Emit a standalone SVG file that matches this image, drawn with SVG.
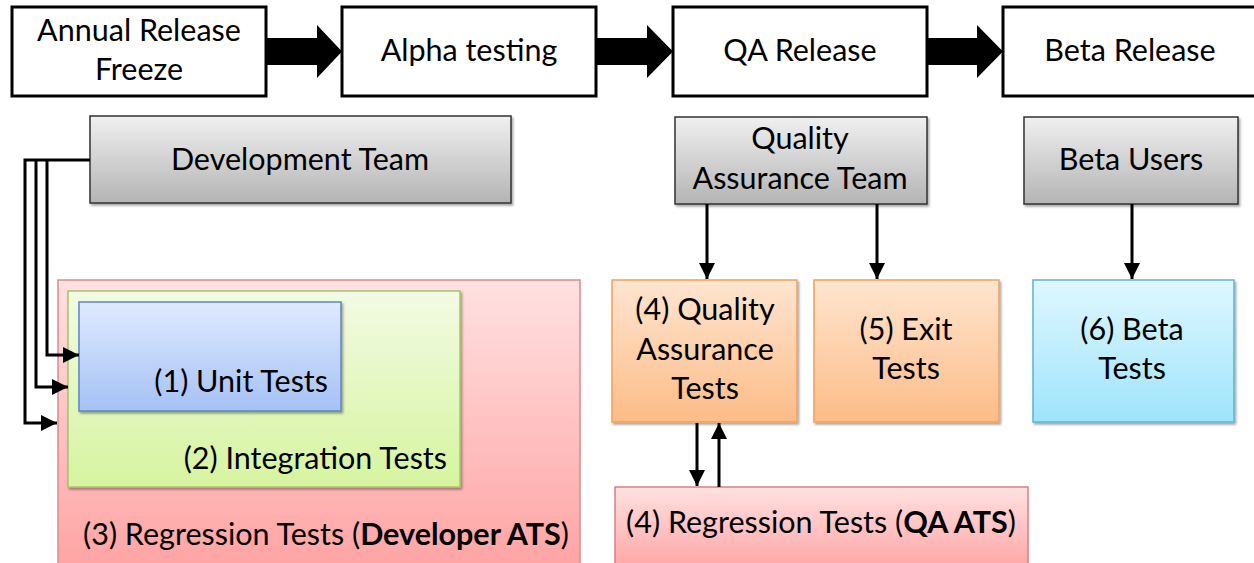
<svg xmlns="http://www.w3.org/2000/svg" width="1254" height="563" viewBox="0 0 1254 563">
<defs>
<style>
text{font-family:Lato,"Open Sans","DejaVu Sans",sans-serif;font-size:30.5px;fill:#000;text-anchor:middle}
.top{fill:#fff;stroke:#000;stroke-width:3}
.gray{fill:url(#gGray);stroke:#333;stroke-width:1.5;filter:url(#sh)}
.c{stroke:#000;stroke-width:3;fill:none}
.end{text-anchor:end}
</style>
<linearGradient id="gGray" x1="0" y1="0" x2="0" y2="1"><stop offset="0" stop-color="#f0f0f0"/><stop offset="1" stop-color="#b4b4b4"/></linearGradient>
<linearGradient id="gRed" x1="0" y1="0" x2="0" y2="1"><stop offset="0" stop-color="#ffe1e1"/><stop offset="1" stop-color="#ffa3a3"/></linearGradient>
<linearGradient id="gGreen" x1="0" y1="0" x2="0" y2="1"><stop offset="0" stop-color="#f2fbe4"/><stop offset="1" stop-color="#d6f49f"/></linearGradient>
<linearGradient id="gBlue" x1="0" y1="0" x2="0" y2="1"><stop offset="0" stop-color="#e0eaff"/><stop offset="1" stop-color="#a5c1f5"/></linearGradient>
<linearGradient id="gOrange" x1="0" y1="0" x2="0" y2="1"><stop offset="0" stop-color="#ffe5d0"/><stop offset="1" stop-color="#fcbc87"/></linearGradient>
<linearGradient id="gCyan" x1="0" y1="0" x2="0" y2="1"><stop offset="0" stop-color="#dff7ff"/><stop offset="1" stop-color="#9ee4fb"/></linearGradient>
<filter id="sh" x="-5%" y="-5%" width="110%" height="115%"><feDropShadow dx="1.5" dy="2" stdDeviation="1.2" flood-color="#000" flood-opacity="0.35"/></filter>
<marker id="ah" viewBox="0 0 10 10" refX="10" refY="5" markerUnits="userSpaceOnUse" markerWidth="16" markerHeight="16" orient="auto"><path d="M0,0 L10,5 L0,10 z" fill="#000"/></marker>
</defs>

<g id="annual-release-freeze"><rect class="top" x="12" y="7" width="254" height="89"/><text x="139" y="41">Annual Release</text><text x="139" y="80">Freeze</text></g>
<g id="alpha-testing"><rect class="top" x="342" y="7" width="254" height="89"/><text x="469" y="61">Alpha testing</text></g>
<g id="qa-release"><rect class="top" x="673" y="7" width="254" height="89"/><text x="800" y="61">QA Release</text></g>
<g id="beta-release"><rect class="top" x="1003" y="7" width="254" height="89"/><text x="1130" y="61">Beta Release</text></g>

<g id="development-team"><rect class="gray" x="90" y="116" width="421" height="87"/><text x="300" y="170">Development Team</text></g>
<g id="quality-assurance-team"><rect class="gray" x="675" y="117" width="252" height="87"/><text x="800" y="149">Quality</text><text x="800" y="189">Assurance Team</text></g>
<g id="beta-users"><rect class="gray" x="1024" y="117" width="214" height="87"/><text x="1131" y="170">Beta Users</text></g>

<g id="regression-developer-ats"><rect x="58" y="280" width="522" height="290" fill="url(#gRed)" stroke="#d98c8c" stroke-width="1.5"/><text x="326" y="545">(3) Regression Tests (<tspan font-weight="bold">Developer ATS</tspan>)</text></g>
<g id="integration-tests"><rect x="68" y="291" width="392" height="196" fill="url(#gGreen)" stroke="#a4c46a" stroke-width="1.5" filter="url(#sh)"/><text class="end" x="447" y="469">(2) Integration Tests</text></g>
<g id="unit-tests"><rect x="79" y="302" width="262" height="109" fill="url(#gBlue)" stroke="#5b86c6" stroke-width="1.5" filter="url(#sh)"/><text class="end" x="328" y="392">(1) Unit Tests</text></g>

<g id="qa-tests"><rect x="612" y="280" width="185" height="142" fill="url(#gOrange)" stroke="#f5a05a" stroke-width="1.5" filter="url(#sh)"/><text x="705" y="320">(4) Quality</text><text x="705" y="360">Assurance</text><text x="705" y="399">Tests</text></g>
<g id="exit-tests"><rect x="814" y="280" width="185" height="142" fill="url(#gOrange)" stroke="#f5a05a" stroke-width="1.5" filter="url(#sh)"/><text x="906" y="340">(5) Exit</text><text x="906" y="379">Tests</text></g>
<g id="beta-tests"><rect x="1033" y="280" width="201" height="142" fill="url(#gCyan)" stroke="#5bb5cf" stroke-width="1.5" filter="url(#sh)"/><text x="1132" y="340">(6) Beta</text><text x="1132" y="379">Tests</text></g>
<g id="regression-qa-ats"><rect x="615" y="487" width="413" height="85" fill="url(#gRed)" stroke="#d98080" stroke-width="1.5"/><text x="821" y="533">(4) Regression Tests (<tspan font-weight="bold">QA ATS</tspan>)</text></g>

<g id="connectors">
<polygon fill="#000" points="266,38 317,38 317,25 342,51.5 317,78 317,65 266,65"/>
<polygon fill="#000" points="596,38 647,38 647,25 673,51.5 647,78 647,65 596,65"/>
<polygon fill="#000" points="927,38 977,38 977,25 1003,51.5 977,78 977,65 927,65"/>
<path class="c" d="M90,160 H25 V423 H57" marker-end="url(#ah)"/>
<path class="c" d="M36,160 V387 H68" marker-end="url(#ah)"/>
<path class="c" d="M47,160 V355 H79" marker-end="url(#ah)"/>
<path class="c" d="M707,204 V279" marker-end="url(#ah)"/>
<path class="c" d="M877,204 V279" marker-end="url(#ah)"/>
<path class="c" d="M1132,204 V279" marker-end="url(#ah)"/>
<path class="c" d="M697,423 V486" marker-end="url(#ah)"/>
<path class="c" d="M719,487 V423" marker-end="url(#ah)"/>
</g>
</svg>
